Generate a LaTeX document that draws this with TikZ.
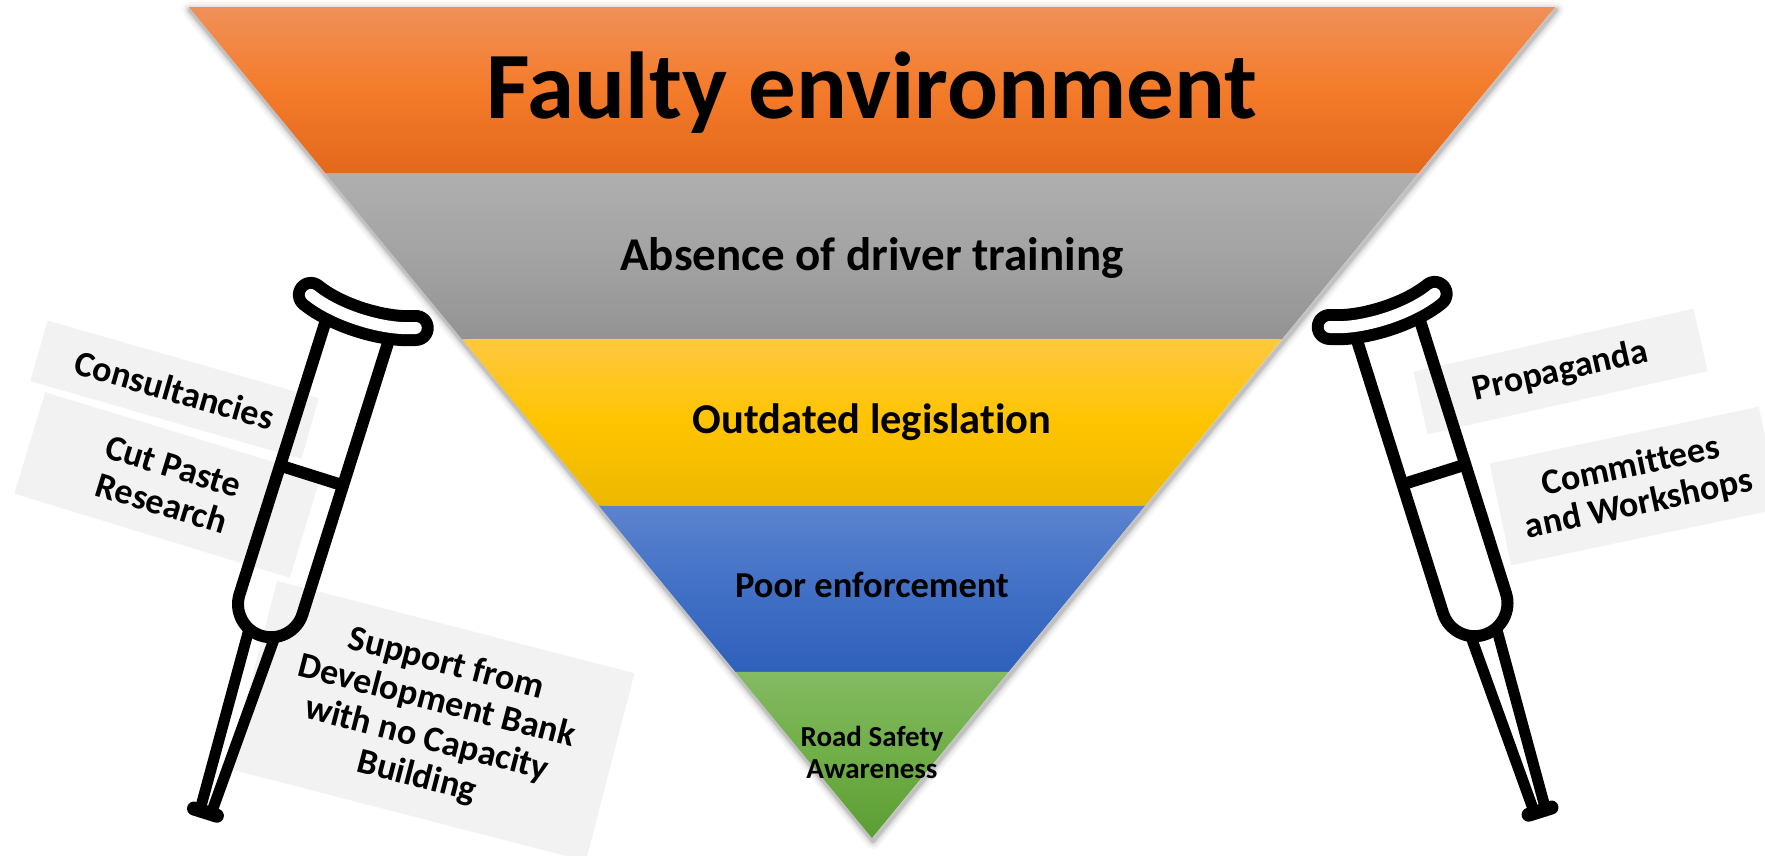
\documentclass[tikz,border=0pt]{standalone}
\usepackage{fontspec}
\setmainfont{Carlito}[Ligatures=NoCommon]
\usetikzlibrary{calc}
\definecolor{orT}{HTML}{F09058}
\definecolor{orM}{HTML}{F47B2A}
\definecolor{orB}{HTML}{E3681C}
\definecolor{grT}{HTML}{AFAFAF}
\definecolor{grM}{HTML}{A3A3A3}
\definecolor{grB}{HTML}{939393}
\definecolor{yeT}{HTML}{FFC83F}
\definecolor{yeM}{HTML}{FFC400}
\definecolor{yeB}{HTML}{ECB800}
\definecolor{blT}{HTML}{5C83CE}
\definecolor{blM}{HTML}{4170C6}
\definecolor{blB}{HTML}{2F60BA}
\definecolor{gnT}{HTML}{83BA63}
\definecolor{gnM}{HTML}{70AE47}
\definecolor{gnB}{HTML}{5C9E33}
\definecolor{lboxc}{HTML}{F2F2F2}
\tikzset{
  bandtxt/.style={inner sep=0pt, anchor=base, text=black},
  lbl/.style={fill=lboxc, inner sep=0pt, align=center, text=black,
    font=\bfseries\fontsize{36}{39}\selectfont},
  crutch/.pic={
    \draw[line width=12pt] (-33,-12) -- (-33,276)
      arc[start angle=180, end angle=360, radius=33pt] -- (33,-12);
    \draw[line width=12pt] (-33,141) -- (33,141);
    \draw[line width=11pt] (-13.5,306) -- (-6,490);
    \draw[line width=11pt] (13.5,306) -- (6,490);
    \draw[line width=14pt, line cap=round] (-12,494) -- (12,494);
    \draw[line width=36pt, line cap=round] (-55,-31) .. controls (-25,-19) and (25,-19) .. (55,-31);
    \draw[white, line width=12pt, line cap=round] (-55,-31) .. controls (-25,-19) and (25,-19) .. (55,-31);
  }
}
\begin{document}
\begin{tikzpicture}[x=1pt, y=-1pt]
\useasboundingbox (0,0) rectangle (1765,855);
\fill[white] (0,0) rectangle (1765,855);

% triangle geometry
\coordinate (T1) at (189,7);
\coordinate (T2) at (1555,7);
\coordinate (Ap) at (872,838);
\coordinate (L1) at ($(T1)!0.2!(Ap)$);
\coordinate (L2) at ($(T1)!0.4!(Ap)$);
\coordinate (L3) at ($(T1)!0.6!(Ap)$);
\coordinate (L4) at ($(T1)!0.8!(Ap)$);
\coordinate (R1) at ($(T2)!0.2!(Ap)$);
\coordinate (R2) at ($(T2)!0.4!(Ap)$);
\coordinate (R3) at ($(T2)!0.6!(Ap)$);
\coordinate (R4) at ($(T2)!0.8!(Ap)$);

% soft shadow
\begin{scope}[transform canvas={shift={(1,3)}}]
\foreach \w/\o in {16/0.035, 11/0.05, 7/0.07, 4/0.1}{
  \draw[line width=\w pt, black, opacity=\o, line join=round] (T1) -- (T2) -- (Ap) -- cycle;
}
\end{scope}

% bands
\shade[top color=orT, bottom color=orB, middle color=orM] (T1) -- (T2) -- (R1) -- (L1) -- cycle;
\shade[top color=grT, bottom color=grB, middle color=grM] (L1) -- (R1) -- (R2) -- (L2) -- cycle;
\shade[top color=yeT, bottom color=yeB, middle color=yeM] (L2) -- (R2) -- (R3) -- (L3) -- cycle;
\shade[top color=blT, bottom color=blB, middle color=blM] (L3) -- (R3) -- (R4) -- (L4) -- cycle;
\shade[top color=gnT, bottom color=gnB, middle color=gnM] (L4) -- (R4) -- (Ap) -- cycle;

% band texts
\node[bandtxt, font=\bfseries\fontsize{95}{100}\selectfont] (t0) at (872,118) {Faulty environment};
\node[bandtxt, font=\bfseries\fontsize{47}{50}\selectfont] (t1) at (872,270) {Absence of driver training};
\node[bandtxt, font=\bfseries\fontsize{42.5}{46}\selectfont] (t2) at (872,433) {Outdated legislation};
\node[bandtxt, font=\bfseries\fontsize{36.5}{40}\selectfont] (t3) at (872,597) {Poor enforcement};
\node[inner sep=0pt, align=center, font=\bfseries\fontsize{29}{32}\selectfont] (t4) at (872,752) {Road Safety\\Awareness};

% label boxes
\node[lbl, minimum width=282pt, minimum height=63pt, rotate=-16] (b1) at (174.5,389.75) {Consultancies};
\node[lbl, minimum width=288pt, minimum height=106pt, rotate=-17] (b2) at (167.5,485) {Cut Paste\\Research};
\node[lbl, minimum width=369pt, minimum height=194pt, rotate=-14.5] (b3) at (431.5,721) {Support from\\Development Bank\\with no Capacity\\Building};
\node[lbl, minimum width=287pt, minimum height=64pt, rotate=12.7] (b4) at (1560.5,371.5) {Propaganda};
\node[lbl, minimum width=275pt, minimum height=104pt, rotate=11.9] (b5) at (1635,486) {Committees\\and Workshops};

% crutches
\pic[rotate=-17.5] (lc) at (354,341) {crutch};
\pic[rotate=17.5] (rc) at (1391.5,340) {crutch};
\end{tikzpicture}
\end{document}
